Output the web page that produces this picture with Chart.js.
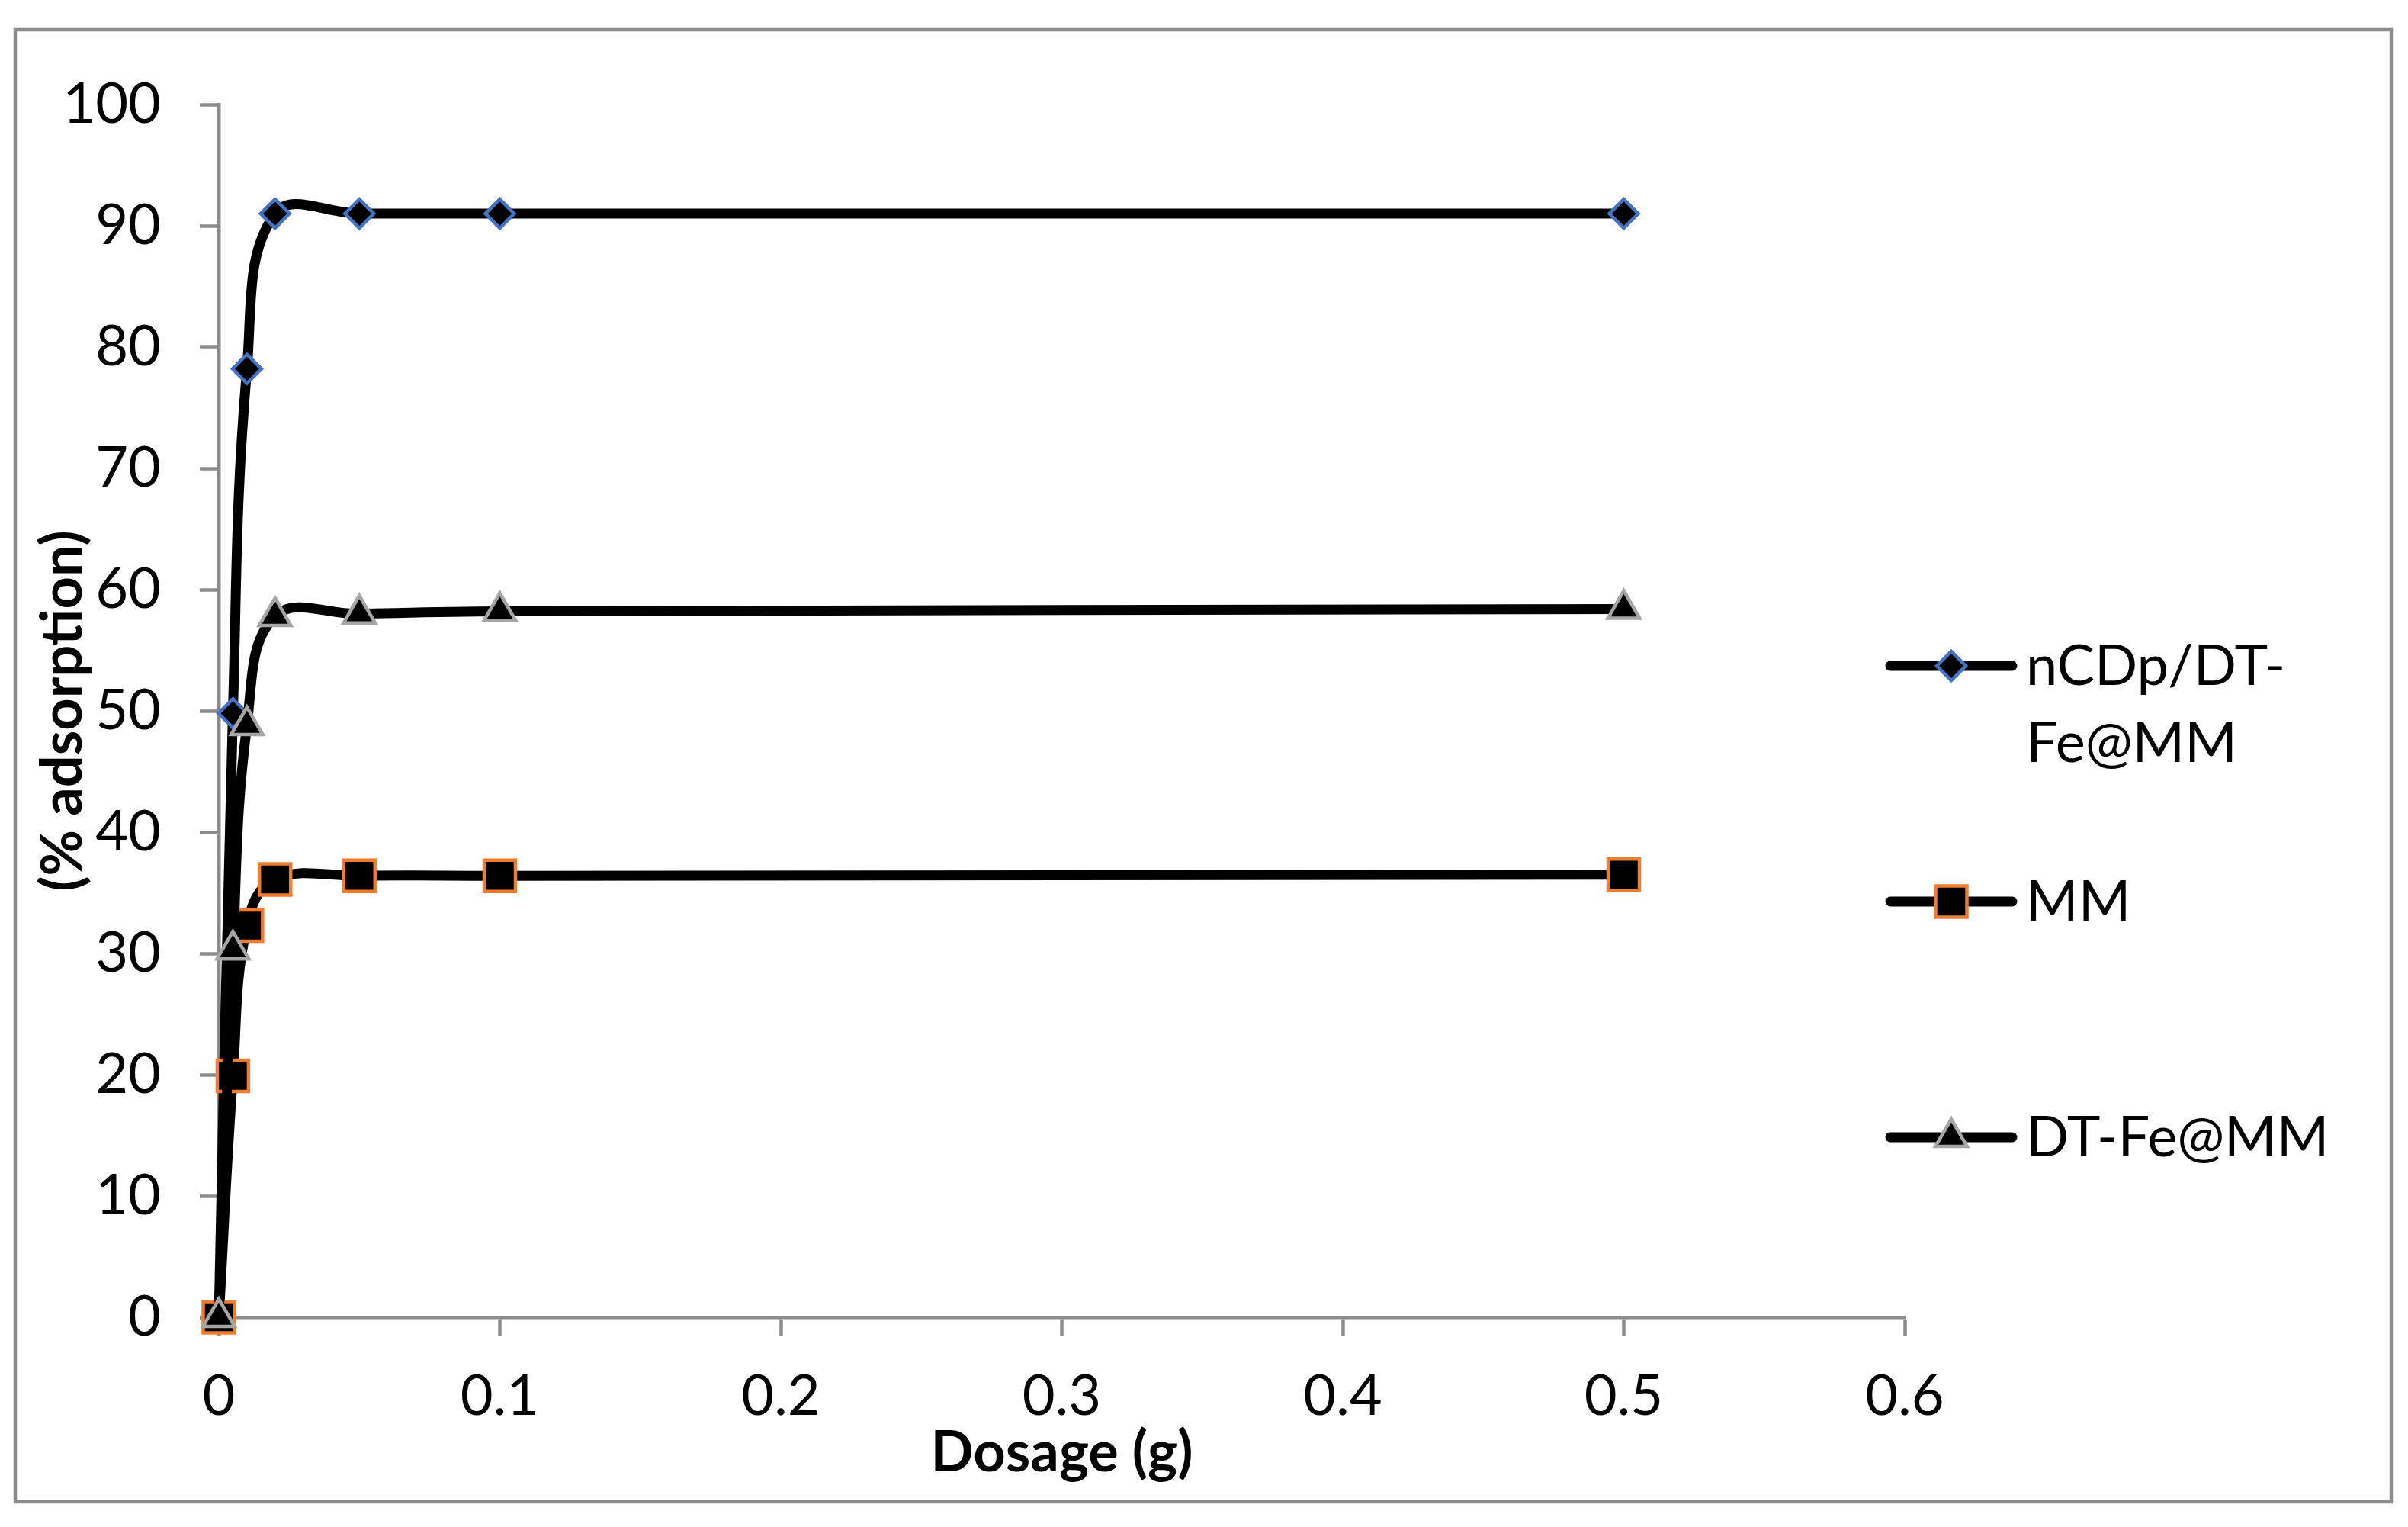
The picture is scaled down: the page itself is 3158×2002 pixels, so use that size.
<!DOCTYPE html>
<html>
<head>
<meta charset="utf-8">
<script src="https://cdn.jsdelivr.net/npm/chart.js@4.4.1/dist/chart.umd.min.js"></script>
<style>
  html, body { margin: 0; padding: 0; background: #fff; overflow: hidden; }
  canvas { display: block; }
</style>
</head>
<body>
<canvas id="chart" width="3158" height="2002"></canvas>
<script>
// values
const dosage = [0, 0.005, 0.01, 0.02, 0.05, 0.1, 0.5];
const ncdpValues = [0, 49.8, 78.2, 91.0, 91.0, 91.0, 91.0];
const mmValues = [0, 19.9, 32.3, 36.1, 36.4, 36.4, 36.5];
const dtfeValues = [0, 30.3, 48.8, 57.8, 58.0, 58.2, 58.4];
const seriesNames = ['nCDp/DT-Fe@MM', 'MM', 'DT-Fe@MM'];
const legendLines = [['nCDp/DT-', 'Fe@MM'], ['MM'], ['DT-Fe@MM']];
const xTicks = [0, 0.1, 0.2, 0.3, 0.4, 0.5, 0.6];
const yTicks = [0, 10, 20, 30, 40, 50, 60, 70, 80, 90, 100];

const AXIS_GREY = '#8c8c8c';
const FONT = 'Lato';

const toPoints = (ys) => dosage.map((x, i) => ({ x: x, y: ys[i] }));

// outer frame like the Excel chart area border
const framePlugin = {
    id: 'frame',
    beforeDraw(chart) {
        const c = chart.ctx;
        c.save();
        c.fillStyle = '#fff';
        c.fillRect(0, 0, chart.width, chart.height);
        c.strokeStyle = AXIS_GREY;
        c.lineWidth = 4.5;
        c.strokeRect(20, 39, 3116, 1930);
        c.restore();
    }
};

// legend on the right, drawn from the dataset styles
const legendPlugin = {
    id: 'sideLegend',
    afterDraw(chart) {
        const c = chart.ctx;
        const rows = [873, 1182, 1491];
        c.save();
        chart.data.datasets.forEach((ds, i) => {
            const y = rows[i];
            c.strokeStyle = ds.borderColor;
            c.lineWidth = ds.borderWidth;
            c.lineCap = 'round';
            c.beginPath();
            c.moveTo(2479, y);
            c.lineTo(2639, y);
            c.stroke();
            c.fillStyle = ds.pointBackgroundColor;
            c.strokeStyle = ds.pointBorderColor;
            c.lineWidth = ds.pointBorderWidth;
            Chart.helpers.drawPoint(c, {
                pointStyle: ds.pointStyle,
                radius: ds.pointRadius,
                rotation: 0,
                borderWidth: ds.pointBorderWidth
            }, 2559, y);
            c.fillStyle = '#000';
            c.font = '74px ' + FONT;
            c.textAlign = 'left';
            c.textBaseline = 'alphabetic';
            legendLines[i].forEach((line, k) => {
                c.fillText(line, 2657, y + 25 + k * 101);
            });
        });
        c.restore();
    }
};

function build() {
    const ctx = document.getElementById('chart').getContext('2d');
    new Chart(ctx, {
        type: 'line',
        data: {
            datasets: [
                {
                    label: seriesNames[0],
                    data: toPoints(ncdpValues),
                    order: 2,
                    pointStyle: 'rectRot',
                    pointRadius: 19,
                    pointBorderColor: '#4472C4'
                },
                {
                    label: seriesNames[1],
                    data: toPoints(mmValues),
                    order: 1,
                    pointStyle: 'rect',
                    pointRadius: 29,
                    pointBorderColor: '#ED7D31'
                },
                {
                    label: seriesNames[2],
                    data: toPoints(dtfeValues),
                    order: 0,
                    pointStyle: 'triangle',
                    pointRadius: 24,
                    pointBorderColor: '#A5A5A5'
                }
            ].map(ds => Object.assign({
                borderColor: '#000',
                borderWidth: 13,
                pointBackgroundColor: '#000',
                pointBorderWidth: 4.5,
                pointHoverRadius: ds.pointRadius,
                tension: 0.4,
                fill: false,
                clip: false
            }, ds))
        },
        options: {
            responsive: false,
            devicePixelRatio: 1,
            animation: false,
            events: [],
            layout: {
                padding: { left: 20, top: 137, right: 660, bottom: 33 }
            },
            plugins: {
                legend: { display: false },
                tooltip: { enabled: false }
            },
            scales: {
                x: {
                    type: 'linear',
                    min: 0,
                    max: 0.6,
                    afterBuildTicks: (scale) => {
                        scale.ticks = xTicks.map(v => ({ value: v }));
                    },
                    afterFit: (scale) => { scale.height = 242; },
                    ticks: {
                        padding: 35,
                        color: '#000',
                        font: { family: FONT, size: 74 },
                        maxRotation: 0,
                        callback: (v) => String(+v.toFixed(1))
                    },
                    grid: {
                        drawOnChartArea: false,
                        drawTicks: true,
                        tickLength: 25,
                        tickWidth: 4.5,
                        tickColor: AXIS_GREY,
                        color: AXIS_GREY
                    },
                    border: { display: true, color: AXIS_GREY, width: 4.5 },
                    title: {
                        display: true,
                        text: 'Dosage (g)',
                        color: '#000',
                        font: { family: FONT, size: 74, weight: 'bold' },
                        padding: { top: 0, bottom: 19 }
                    }
                },
                y: {
                    min: 0,
                    max: 100,
                    afterBuildTicks: (scale) => {
                        scale.ticks = yTicks.map(v => ({ value: v }));
                    },
                    afterFit: (scale) => { scale.width = 267; },
                    ticks: {
                        padding: 51,
                        color: '#000',
                        font: { family: FONT, size: 74 }
                    },
                    grid: {
                        drawOnChartArea: false,
                        drawTicks: true,
                        tickLength: 25,
                        tickWidth: 4.5,
                        tickColor: AXIS_GREY,
                        color: AXIS_GREY
                    },
                    border: { display: true, color: AXIS_GREY, width: 4.5 },
                    title: {
                        display: true,
                        text: '(% adsorption)',
                        color: '#000',
                        font: { family: FONT, size: 74, weight: 'bold' },
                        padding: { top: 19, bottom: 0 }
                    }
                }
            }
        },
        plugins: [framePlugin, legendPlugin]
    });
}

Promise.all([
    document.fonts.load('74px Lato'),
    document.fonts.load('bold 74px Lato')
]).then(build, build);
</script>
</body>
</html>
